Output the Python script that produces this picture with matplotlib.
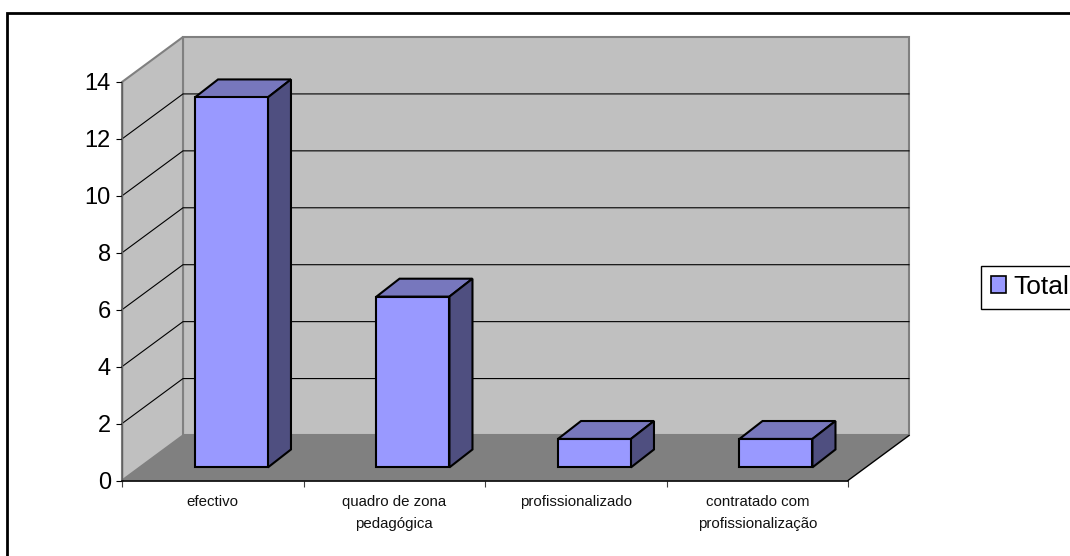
import matplotlib
matplotlib.use("Agg")
import matplotlib.pyplot as plt
from matplotlib.patches import Polygon, Rectangle

plt.rcParams['font.family'] = ['Liberation Sans', 'DejaVu Sans']

categories = ['efectivo', 'quadro de zona\npedagógica', 'profissionalizado', 'contratado com\nprofissionalização']
values = [13, 6, 1, 1]
series_name = 'Total'
y_ticks = [0, 2, 4, 6, 8, 10, 12, 14]

W, H = 1070, 556
fig = plt.figure(figsize=(W / 100, H / 100), dpi=100, facecolor='white')
L, R, T, B = 122, 848, 82, 480.5
ax = fig.add_axes([L / W, 1 - B / H, (R - L) / W, (B - T) / H])
ax.set_xlim(0, 4)
ax.set_ylim(0, 14)
ax.patch.set_visible(False)

# 3D projection offsets, in data units
DX, DY = 61 / 181.5, 45 / 28.46
BAR_W, BAR_OFF, BAR_BASE = 0.402, 0.603, 0.46
BDX, BDY = 0.127, 0.63

WALL, FLOOR, EDGE = '#c0c0c0', '#808080', '#808080'
FRONT, TOP, SIDE = '#9999ff', '#7777bd', '#4f4f80'


def poly(pts, **kw):
    p = Polygon(pts, closed=True, clip_on=False, **kw)
    ax.add_patch(p)
    return p


# Walls and floor
poly([(DX, DY), (4 + DX, DY), (4 + DX, 14 + DY), (DX, 14 + DY)], facecolor=WALL, edgecolor=EDGE, lw=1.5, zorder=1)
poly([(0, 0), (DX, DY), (DX, 14 + DY), (0, 14)], facecolor=WALL, edgecolor=EDGE, lw=1.5, zorder=1.1)
poly([(0, 0), (4, 0), (4 + DX, DY), (DX, DY)], facecolor=FLOOR, edgecolor='none', zorder=1.2)
ax.plot([4, 4 + DX], [0, DY], color='black', lw=1, clip_on=False, zorder=1.3)

# Gridlines
for v in y_ticks[1:-1]:
    ax.plot([0, DX, 4 + DX], [v, v + DY, v + DY], color='black', lw=0.8, clip_on=False, zorder=1.5,
            solid_joinstyle='miter')

# Bars
xs = [i + BAR_OFF for i in range(len(values))]
bars = ax.bar(xs, values, width=BAR_W, bottom=BAR_BASE, color=FRONT, edgecolor='black', lw=1.5, zorder=3,
              clip_on=False, label=series_name)
for x, v in zip(xs, values):
    x0, x1 = x - BAR_W / 2, x + BAR_W / 2
    y0, y1 = BAR_BASE, BAR_BASE + v
    poly([(x0, y1), (x1, y1), (x1 + BDX, y1 + BDY), (x0 + BDX, y1 + BDY)], facecolor=TOP, edgecolor='black', lw=1.5, zorder=2.9)
    poly([(x1, y0), (x1 + BDX, y0 + BDY), (x1 + BDX, y1 + BDY), (x1, y1)], facecolor=SIDE, edgecolor='black', lw=1.5, zorder=2.9)

# Axes
for s in ('top', 'right'):
    ax.spines[s].set_visible(False)
ax.spines['left'].set_color('#606060')
ax.spines['left'].set_linewidth(1)
ax.spines['bottom'].set_color('black')
ax.spines['bottom'].set_linewidth(1.2)
ax.spines['left'].set_zorder(2)
ax.spines['bottom'].set_zorder(2)
ax.set_yticks(y_ticks)
ax.tick_params(axis='y', length=4.5, width=0.8, labelsize=17, pad=3.5, colors='black')
ax.set_xticks(range(len(values) + 1))
ax.set_xticklabels([])
ax.tick_params(axis='x', which='major', length=4.5, width=0.8, color='#404040')
ax.set_xticks([i + 0.5 for i in range(len(values))], minor=True)
ax.set_xticklabels(categories, minor=True, fontsize=10.8, linespacing=1.75, color='#111111')
ax.tick_params(axis='x', which='minor', length=0, pad=10.5)

# Legend
handle = Rectangle((0, 0), 1, 1, facecolor=FRONT, edgecolor='black', lw=1.2)
leg = fig.legend([handle], [series_name], loc='upper left', bbox_to_anchor=(981 / W, 1 - 265.5 / H),
                 bbox_transform=fig.transFigure, fontsize=19, frameon=True, fancybox=False, edgecolor='black',
                 framealpha=1, borderaxespad=0, handlelength=0.58, handleheight=0.58, handletextpad=0.28,
                 borderpad=0.36)
leg.get_frame().set_linewidth(1)

# Outer chart frame, running off the right and bottom of the picture
fig.add_artist(Rectangle((7 / W, -0.2), 1.2, 1.2 - 13 / H, transform=fig.transFigure,
                         facecolor='none', edgecolor='black', lw=2))

fig.savefig('out.png', dpi=100, facecolor='white')
